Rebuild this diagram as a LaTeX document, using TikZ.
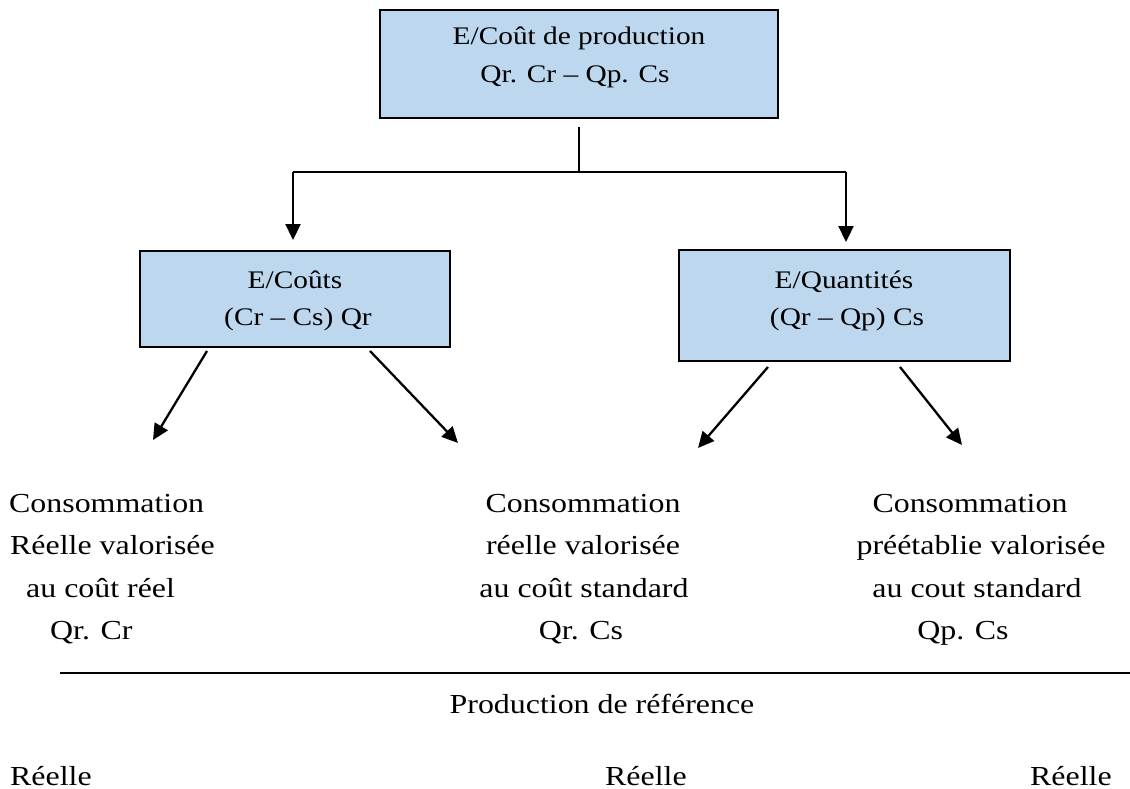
\documentclass[tikz,border=0pt]{standalone}
\usepackage{fontspec}
\setmainfont[FakeStretch=1.16]{Liberation Serif}
\usetikzlibrary{arrows.meta}
\definecolor{boxblue}{RGB}{189,215,238}
\begin{document}
\begin{tikzpicture}[x=1pt,y=-1pt,
  box/.style={draw=black,line width=2pt,fill=boxblue,rectangle,inner sep=0pt},
  btxt/.style={anchor=base,inner sep=0pt,font=\fontsize{25.3}{30}\selectfont},
  ctxt/.style={anchor=base,inner sep=0pt,font=\fontsize{27.5}{33}\selectfont},
  ltxt/.style={anchor=base west,inner sep=0pt,font=\fontsize{27.5}{33}\selectfont},
  conn/.style={line width=2.3pt},
  arr/.style={line width=2.3pt,-{Triangle[length=16pt,width=15pt]}}]
\useasboundingbox (0,0) rectangle (1130,789);
% boxes
\node[box,minimum width=398pt,minimum height=108pt] (top) at (579,64) {};
\node[box,minimum width=310pt,minimum height=96pt] (left) at (295,299) {};
\node[box,minimum width=331pt,minimum height=111pt] (right) at (844.5,305.5) {};
% box texts
\node[btxt] (t1) at (579,45) {E/Coût de production};
\node[btxt] (t2) at (575,83) {Qr. Cr – Qp. Cs};
\node[btxt] (l1) at (295,288) {E/Coûts};
\node[btxt] (l2) at (298,325) {(Cr – Cs) Qr};
\node[btxt] (r1) at (844,288) {E/Quantités};
\node[btxt] (r2) at (847,325) {(Qr – Qp) Cs};
% connectors from top
\coordinate (v0) at (579,127);
\coordinate (j) at (579,172);
\coordinate (jl) at (293,172);
\coordinate (jr) at (846,172);
\coordinate (el) at (293,240);
\coordinate (er) at (846,242);
\draw[conn] (v0) -- (j);
\draw[conn] (jl) -- (jr);
\draw[arr] (jl) -- (el);
\draw[arr] (jr) -- (er);
% diagonal arrows
\coordinate (a1s) at (207,351); \coordinate (a1e) at (153,440);
\coordinate (a2s) at (370,351); \coordinate (a2e) at (458,443);
\coordinate (a3s) at (768,367); \coordinate (a3e) at (698,448);
\coordinate (a4s) at (900,367); \coordinate (a4e) at (962,445);
\draw[arr] (a1s) -- (a1e);
\draw[arr] (a2s) -- (a2e);
\draw[arr] (a3s) -- (a3e);
\draw[arr] (a4s) -- (a4e);
% column 1
\node[ltxt] (c1a) at (9,512) {Consommation};
\node[ltxt] (c1b) at (10,554) {Réelle valorisée};
\node[ltxt] (c1c) at (26,597) {au coût réel};
\node[ltxt] (c1d) at (50,639) {Qr. Cr};
% column 2
\node[ctxt] (c2a) at (583,512) {Consommation};
\node[ctxt] (c2b) at (583,554) {réelle valorisée};
\node[ctxt] (c2c) at (584,597) {au coût standard};
\node[ctxt] (c2d) at (581,639) {Qr. Cs};
% column 3
\node[ctxt] (c3a) at (970,512) {Consommation};
\node[ctxt] (c3b) at (981,554) {préétablie valorisée};
\node[ctxt] (c3c) at (977,597) {au cout standard};
\node[ctxt] (c3d) at (963,639) {Qp. Cs};
% separator
\coordinate (s1) at (60,673);
\coordinate (s2) at (1130,673);
\draw[line width=2.3pt] (s1) -- (s2);
\node[ctxt] (prod) at (602,713) {Production de référence};
\node[ltxt] (re1) at (10,785) {Réelle};
\node[ltxt] (re2) at (605,785) {Réelle};
\node[ltxt] (re3) at (1030,785) {Réelle};
\end{tikzpicture}
\end{document}
